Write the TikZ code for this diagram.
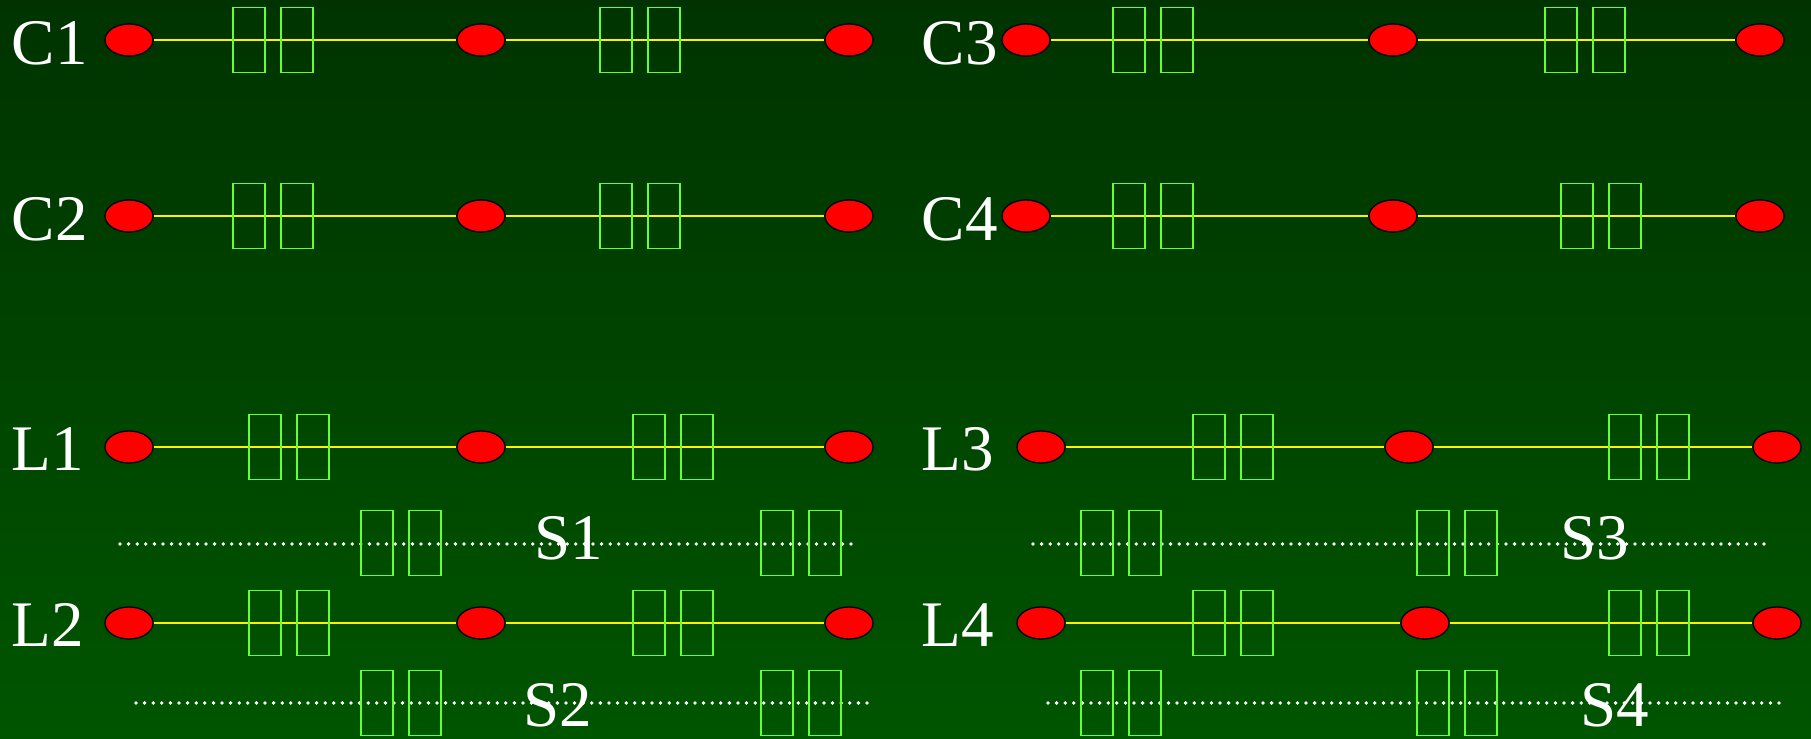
\documentclass[tikz,border=0pt]{standalone}
\usepackage{fontspec}
\setmainfont{Liberation Serif}
\usepackage{xcolor}
\usepackage{tikz}
\usetikzlibrary{positioning, shapes.geometric}

\definecolor{bgtop}{RGB}{0,51,0}
\definecolor{bgbottom}{RGB}{0,85,0}
\definecolor{glyphgreen}{RGB}{102,255,51}

\begin{document}
\begin{tikzpicture}[x=0.1mm, y=-0.1mm,
    joint/.style={ellipse, draw=black, line width=0.13mm, fill=red,
        minimum width=4.8mm, minimum height=3.2mm, inner sep=0pt},
    wire/.style={yellow, line width=0.17mm},
    glyphbox/.style={draw=glyphgreen, line width=0.19mm,
        minimum width=3.2mm, minimum height=6.5mm, inner sep=0pt},
    dotline/.style={white, line width=0.38mm, line cap=round,
        dash pattern=on 0pt off 0.86mm},
    lbl/.style={text=white, inner sep=0pt,
        font=\fontsize{18.5pt}{22pt}\selectfont}]

    % Background
    \shade[top color=bgtop, bottom color=bgbottom] (0,0) rectangle (1811,739);
    \useasboundingbox (0,0) rectangle (1811,739);

    % Row C1
    \node[lbl, anchor=base west] (c1lbl) at (11,65) {C1};
    \node[joint] (c1a) at (129,40) {};
    \node[joint] (c1b) at (481,40) {};
    \node[joint] (c1c) at (849,40) {};
    \draw[wire] (c1a) -- (c1b) -- (c1c);
    \node[glyphbox] (c1g1) at (249,40) {};
    \node[glyphbox] (c1g2) at (297,40) {};
    \node[glyphbox] (c1g3) at (616,40) {};
    \node[glyphbox] (c1g4) at (664,40) {};

    % Row C2
    \node[lbl, anchor=base west] (c2lbl) at (11,241) {C2};
    \node[joint] (c2a) at (129,216) {};
    \node[joint] (c2b) at (481,216) {};
    \node[joint] (c2c) at (849,216) {};
    \draw[wire] (c2a) -- (c2b) -- (c2c);
    \node[glyphbox] (c2g1) at (249,216) {};
    \node[glyphbox] (c2g2) at (297,216) {};
    \node[glyphbox] (c2g3) at (616,216) {};
    \node[glyphbox] (c2g4) at (664,216) {};

    % Row C3
    \node[lbl, anchor=base west] (c3lbl) at (921,65) {C3};
    \node[joint] (c3a) at (1026,40) {};
    \node[joint] (c3b) at (1393,40) {};
    \node[joint] (c3c) at (1760,40) {};
    \draw[wire] (c3a) -- (c3b) -- (c3c);
    \node[glyphbox] (c3g1) at (1129,40) {};
    \node[glyphbox] (c3g2) at (1177,40) {};
    \node[glyphbox] (c3g3) at (1561,40) {};
    \node[glyphbox] (c3g4) at (1609,40) {};

    % Row C4
    \node[lbl, anchor=base west] (c4lbl) at (921,241) {C4};
    \node[joint] (c4a) at (1026,216) {};
    \node[joint] (c4b) at (1393,216) {};
    \node[joint] (c4c) at (1760,216) {};
    \draw[wire] (c4a) -- (c4b) -- (c4c);
    \node[glyphbox] (c4g1) at (1129,216) {};
    \node[glyphbox] (c4g2) at (1177,216) {};
    \node[glyphbox] (c4g3) at (1577,216) {};
    \node[glyphbox] (c4g4) at (1625,216) {};

    % Row L1
    \node[lbl, anchor=base west] (l1lbl) at (11,471) {L1};
    \node[joint] (l1a) at (129,447) {};
    \node[joint] (l1b) at (481,447) {};
    \node[joint] (l1c) at (849,447) {};
    \draw[wire] (l1a) -- (l1b) -- (l1c);
    \node[glyphbox] (l1g1) at (265,447) {};
    \node[glyphbox] (l1g2) at (313,447) {};
    \node[glyphbox] (l1g3) at (649,447) {};
    \node[glyphbox] (l1g4) at (697,447) {};

    % Row S1 (dotted)
    \coordinate (s1from) at (120,544);
    \coordinate (s1to) at (854,544);
    \draw[dotline] (s1from) -- (s1to);
    \node[glyphbox] (s1g1) at (377,543) {};
    \node[glyphbox] (s1g2) at (425,543) {};
    \node[glyphbox] (s1g3) at (777,543) {};
    \node[glyphbox] (s1g4) at (825,543) {};
    \node[lbl, anchor=base] (s1lbl) at (569,560) {S1};

    % Row L2
    \node[lbl, anchor=base west] (l2lbl) at (11,647) {L2};
    \node[joint] (l2a) at (129,623) {};
    \node[joint] (l2b) at (481,623) {};
    \node[joint] (l2c) at (849,623) {};
    \draw[wire] (l2a) -- (l2b) -- (l2c);
    \node[glyphbox] (l2g1) at (265,623) {};
    \node[glyphbox] (l2g2) at (313,623) {};
    \node[glyphbox] (l2g3) at (649,623) {};
    \node[glyphbox] (l2g4) at (697,623) {};

    % Row S2 (dotted)
    \coordinate (s2from) at (136,703);
    \coordinate (s2to) at (870,703);
    \draw[dotline] (s2from) -- (s2to);
    \node[glyphbox] (s2g1) at (377,703) {};
    \node[glyphbox] (s2g2) at (425,703) {};
    \node[glyphbox] (s2g3) at (777,703) {};
    \node[glyphbox] (s2g4) at (825,703) {};
    \node[lbl, anchor=base] (s2lbl) at (558,727) {S2};

    % Row L3
    \node[lbl, anchor=base west] (l3lbl) at (921,471) {L3};
    \node[joint] (l3a) at (1041,447) {};
    \node[joint] (l3b) at (1409,447) {};
    \node[joint] (l3c) at (1777,447) {};
    \draw[wire] (l3a) -- (l3b) -- (l3c);
    \node[glyphbox] (l3g1) at (1209,447) {};
    \node[glyphbox] (l3g2) at (1257,447) {};
    \node[glyphbox] (l3g3) at (1625,447) {};
    \node[glyphbox] (l3g4) at (1673,447) {};

    % Row S3 (dotted)
    \coordinate (s3from) at (1033,544);
    \coordinate (s3to) at (1765,544);
    \draw[dotline] (s3from) -- (s3to);
    \node[glyphbox] (s3g1) at (1097,543) {};
    \node[glyphbox] (s3g2) at (1145,543) {};
    \node[glyphbox] (s3g3) at (1433,543) {};
    \node[glyphbox] (s3g4) at (1481,543) {};
    \node[lbl, anchor=base] (s3lbl) at (1595,560) {S3};

    % Row L4
    \node[lbl, anchor=base west] (l4lbl) at (921,647) {L4};
    \node[joint] (l4a) at (1041,623) {};
    \node[joint] (l4b) at (1425,623) {};
    \node[joint] (l4c) at (1777,623) {};
    \draw[wire] (l4a) -- (l4b) -- (l4c);
    \node[glyphbox] (l4g1) at (1209,623) {};
    \node[glyphbox] (l4g2) at (1257,623) {};
    \node[glyphbox] (l4g3) at (1625,623) {};
    \node[glyphbox] (l4g4) at (1673,623) {};

    % Row S4 (dotted)
    \coordinate (s4from) at (1048,703);
    \coordinate (s4to) at (1781,703);
    \draw[dotline] (s4from) -- (s4to);
    \node[glyphbox] (s4g1) at (1097,703) {};
    \node[glyphbox] (s4g2) at (1145,703) {};
    \node[glyphbox] (s4g3) at (1433,703) {};
    \node[glyphbox] (s4g4) at (1481,703) {};
    \node[lbl, anchor=base] (s4lbl) at (1615,727) {S4};

\end{tikzpicture}
\end{document}
